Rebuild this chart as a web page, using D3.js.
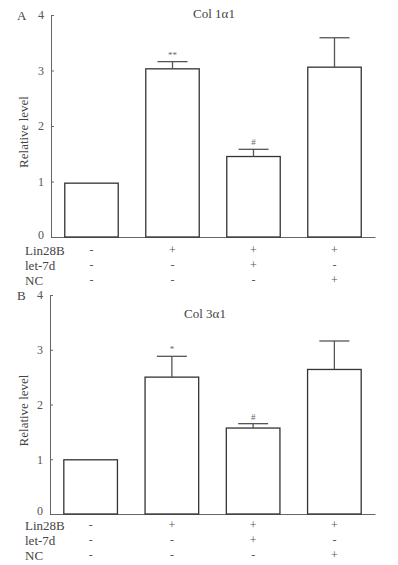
<!DOCTYPE html>
<html>
<head>
<meta charset="utf-8">
<script src="https://cdn.jsdelivr.net/npm/d3@7"></script>
<style>
  html, body { margin: 0; padding: 0; background: #fff; }
  svg { display: block; font-family: "Liberation Serif", "DejaVu Serif", serif; }
  svg text { font-family: "Liberation Serif", "DejaVu Serif", serif; }
</style>
</head>
<body>
<div id="chart"></div>
<script>
// data
const groups = ["g1", "g2", "g3", "g4"];
const yTicks = [0, 1, 2, 3, 4];
const rowLabels = ["Lin28B", "let-7d", "NC"];
const lin28bSigns = ["-", "+", "+", "+"];
const let7dSigns = ["-", "-", "+", "-"];
const ncSigns = ["-", "-", "-", "+"];

const col1Mean = [0.97, 3.03, 1.45, 3.06];
const col1Err = [0, 0.13, 0.13, 0.53];
const col1Marks = ["", "**", "#", ""];

const col3Mean = [0.99, 2.50, 1.57, 2.64];
const col3Err = [0, 0.38, 0.08, 0.52];
const col3Marks = ["", "*", "#", ""];

const width = 398, height = 565;
const axisColor = "#666", barColor = "#333", textColor = "#444";

const svg = d3.select("#chart").append("svg")
  .attr("width", width).attr("height", height);

// 画一个面板
function drawPanel(p) {
  const g = svg.append("g");

  const x = d3.scaleBand().domain(groups)
    .range([p.left, p.right]).paddingInner(0.34).paddingOuter(0.17);
  const y = d3.scaleLinear().domain([0, 4]).range([p.bottom, p.top]);

  // y axis, ticks point inward
  const yAxis = g.append("g")
    .attr("transform", `translate(${p.left},0)`)
    .call(d3.axisLeft(y).tickValues(yTicks).tickFormat(d3.format("d"))
      .tickSizeInner(-3).tickSizeOuter(0).tickPadding(7));
  yAxis.attr("font-family", null);
  yAxis.select(".domain").attr("stroke", axisColor);
  yAxis.selectAll(".tick line").attr("stroke", axisColor);
  yAxis.selectAll(".tick text")
    .attr("font-size", 12).attr("fill", "#555")
    .attr("y", d => d === 0 ? -p.zeroLift : 0);

  // x axis baseline
  const xAxis = g.append("g")
    .attr("transform", `translate(0,${p.bottom})`)
    .call(d3.axisBottom(x).tickSize(0).tickSizeOuter(0).tickFormat(""));
  xAxis.select(".domain").attr("stroke", axisColor);

  // bars
  g.selectAll("rect.bar").data(groups).join("rect")
    .attr("class", "bar")
    .attr("x", d => x(d))
    .attr("width", x.bandwidth())
    .attr("y", (d, i) => y(p.mean[i]))
    .attr("height", (d, i) => y(0) - y(p.mean[i]))
    .attr("fill", "#fff")
    .attr("stroke", barColor)
    .attr("stroke-width", 1.3);

  // error bars (upper only)
  const cx = d => x(d) + x.bandwidth() / 2;
  const withErr = groups.filter((d, i) => p.err[i] > 0);
  const idx = d => groups.indexOf(d);
  g.selectAll("line.err").data(withErr).join("line")
    .attr("class", "err")
    .attr("x1", cx).attr("x2", cx)
    .attr("y1", d => y(p.mean[idx(d)]))
    .attr("y2", d => y(p.mean[idx(d)] + p.err[idx(d)]))
    .attr("stroke", "#555").attr("stroke-width", 1.3);
  g.selectAll("line.cap").data(withErr).join("line")
    .attr("class", "cap")
    .attr("x1", d => cx(d) - 15).attr("x2", d => cx(d) + 15)
    .attr("y1", d => y(p.mean[idx(d)] + p.err[idx(d)]))
    .attr("y2", d => y(p.mean[idx(d)] + p.err[idx(d)]))
    .attr("stroke", "#555").attr("stroke-width", 1.3);

  // significance marks
  g.selectAll("text.mark").data(groups).join("text")
    .attr("class", "mark")
    .attr("x", cx)
    .attr("y", (d, i) => y(p.mean[i] + p.err[i]) - 4)
    .attr("text-anchor", "middle")
    .attr("font-size", 9)
    .attr("fill", "#666")
    .text((d, i) => p.marks[i]);

  // panel letter and title
  g.append("text")
    .attr("x", 17).attr("y", p.top).attr("dy", "0.35em")
    .attr("font-size", 13).attr("fill", textColor)
    .text(p.letter);
  g.append("text")
    .attr("x", p.titleX).attr("y", p.titleY).attr("dy", "0.35em")
    .attr("text-anchor", "middle")
    .attr("font-size", 13).attr("fill", textColor)
    .text(p.title);

  // y label
  g.append("text")
    .attr("transform", `translate(23,${(p.top + p.bottom) / 2 + 6}) rotate(-90)`)
    .attr("text-anchor", "middle").attr("dy", "0.35em")
    .attr("font-size", 13).attr("fill", textColor)
    .text("Relative level");

  // treatment table under the bars
  const signRows = [lin28bSigns, let7dSigns, ncSigns];
  rowLabels.forEach((lab, r) => {
    const ry = p.bottom + p.rowStart + r * 15;
    g.append("text")
      .attr("x", 25).attr("y", ry).attr("dy", "0.35em")
      .attr("font-size", 13).attr("fill", textColor)
      .text(lab);
    g.selectAll(`text.sign${r}`).data(groups).join("text")
      .attr("class", `sign${r}`)
      .attr("x", cx).attr("y", ry).attr("dy", "0.35em")
      .attr("text-anchor", "middle")
      .attr("font-size", 12).attr("fill", "#555")
      .text((d, i) => signRows[r][i]);
  });
}

drawPanel({
  letter: "A", title: "Col 1\u03b11", titleX: 214, titleY: 13,
  left: 51, right: 375, top: 15, bottom: 237,
  rowStart: 13, zeroLift: 2,
  mean: col1Mean, err: col1Err, marks: col1Marks
});

drawPanel({
  letter: "B", title: "Col 3\u03b11", titleX: 205, titleY: 313,
  left: 50, right: 375, top: 295, bottom: 514,
  rowStart: 11, zeroLift: 3,
  mean: col3Mean, err: col3Err, marks: col3Marks
});
</script>
</body>
</html>
